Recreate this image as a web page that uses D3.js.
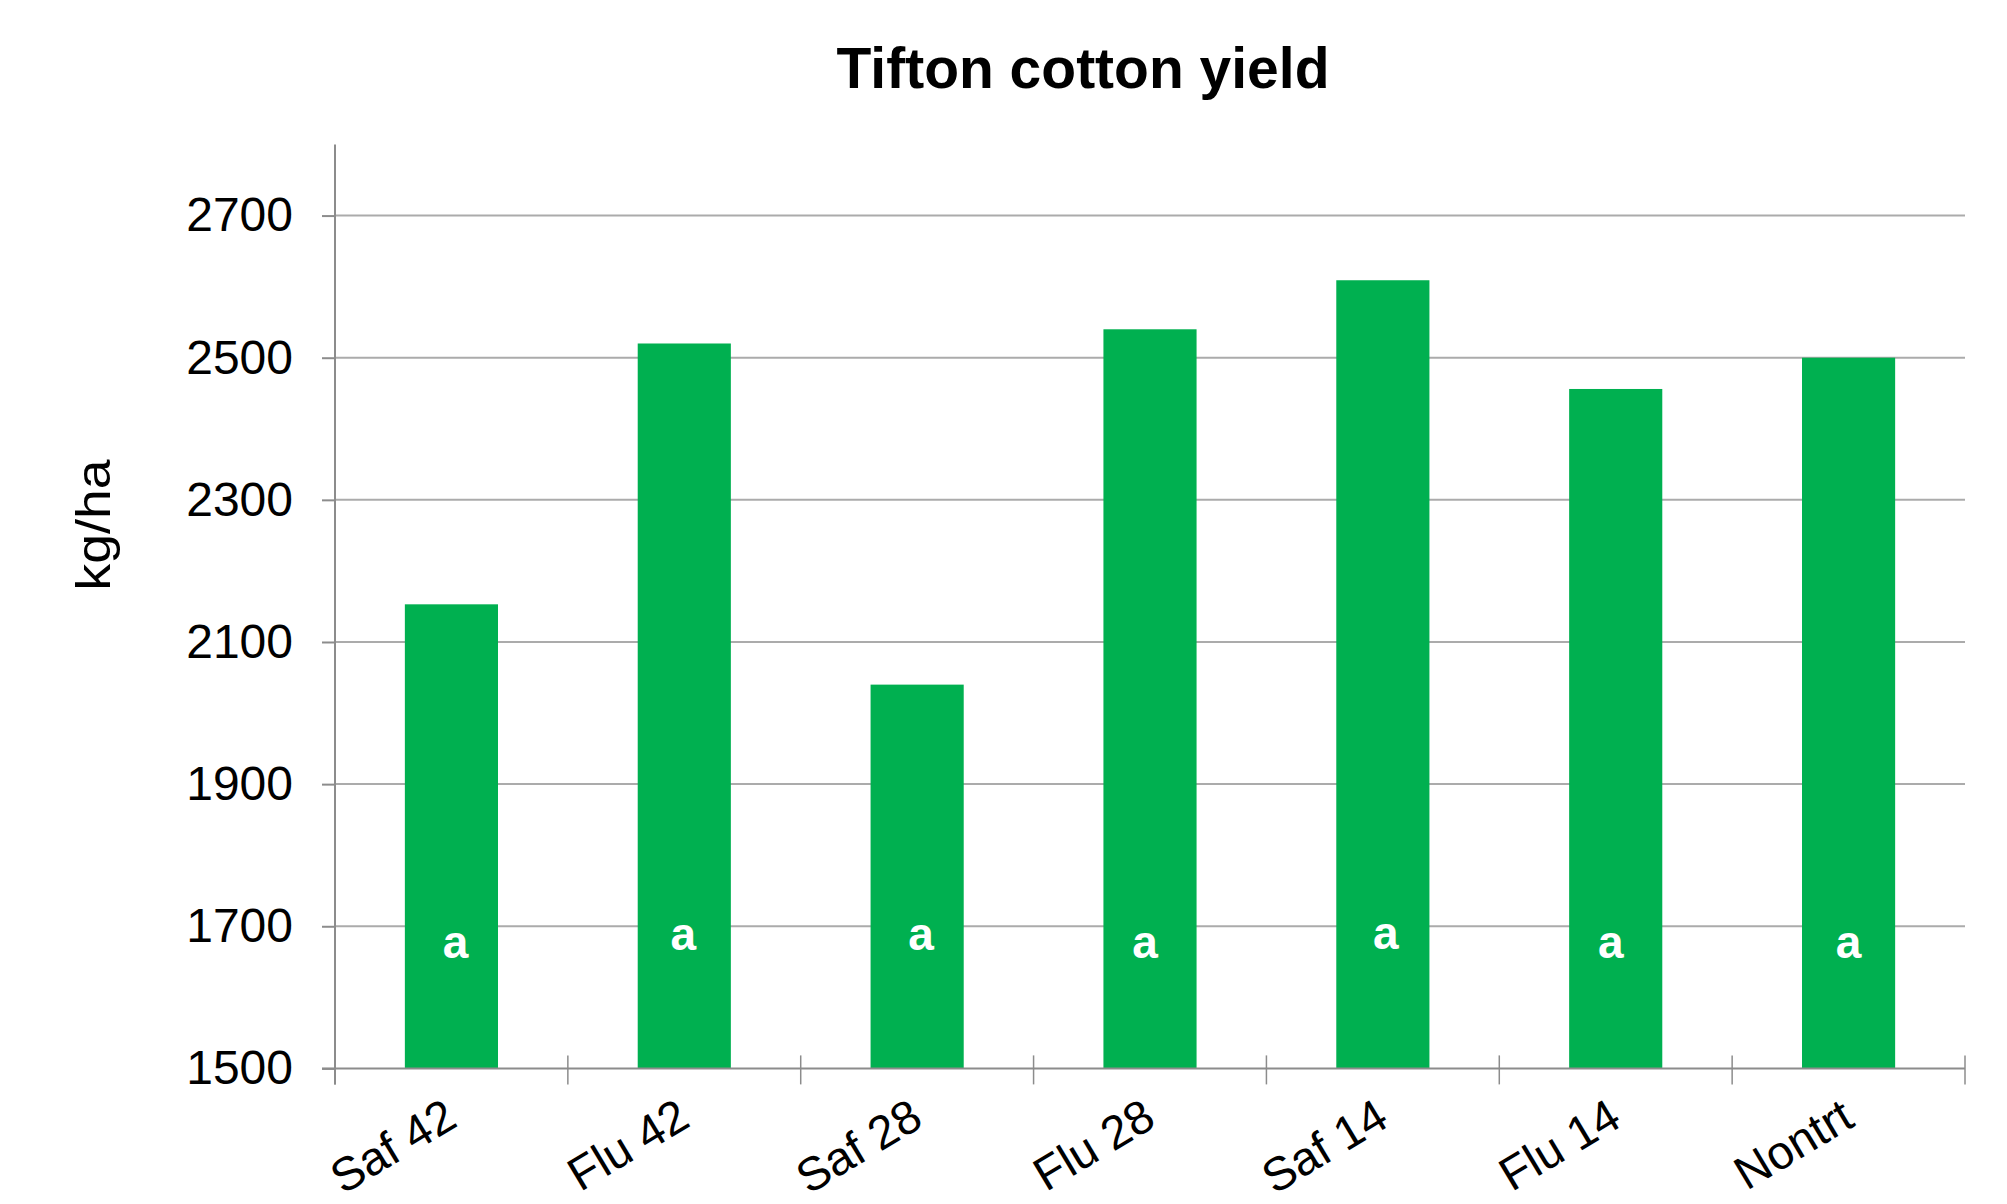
<!DOCTYPE html>
<html>
<head>
<meta charset="utf-8">
<script src="https://cdn.jsdelivr.net/npm/d3@7"></script>
<style>
  html, body { margin: 0; padding: 0; background: #fff; }
  svg { display: block; font-family: "Liberation Sans", Arial, sans-serif; }
</style>
</head>
<body>
<svg id="chart" width="2007" height="1204"></svg>
<script>
// ---- data ----
const categories = ["Saf 42", "Flu 42", "Saf 28", "Flu 28", "Saf 14", "Flu 14", "Nontrt"];
const yieldValues = [2153, 2520, 2040, 2540, 2609, 2456, 2500];
const letters = ["a", "a", "a", "a", "a", "a", "a"];
const yTicks = [1500, 1700, 1900, 2100, 2300, 2500, 2700];
const chartTitle = "Tifton cotton yield";
const yLabel = "kg/ha";

// ---- layout (not data) ----
const letterDy = [0, -8, -8, 0, -9, 0, 0];
const letterDx = [4, -1, 4, -5, 3, -5, 0];
const plotLeft = 335, plotRight = 1965, plotBottom = 1068.4, plotTop = 144.5;

const svg = d3.select("#chart");

const x = d3.scaleBand().domain(categories).range([plotLeft, plotRight])
  .paddingInner(0.6).paddingOuter(0.3);
const step = x.step();
const y = d3.scaleLinear().domain([1500, 2800]).range([plotBottom, plotTop]);

// gridlines
svg.append("g").selectAll("line")
  .data(yTicks.filter(t => t !== 1500))
  .join("line")
  .attr("x1", plotLeft).attr("x2", plotRight)
  .attr("y1", d => y(d)).attr("y2", d => y(d))
  .attr("stroke", "#ABABAB").attr("stroke-width", 2);

// bars
svg.append("g").selectAll("rect")
  .data(categories)
  .join("rect")
  .attr("x", d => x(d))
  .attr("width", x.bandwidth())
  .attr("y", (d, i) => y(yieldValues[i]))
  .attr("height", (d, i) => y(1500) - y(yieldValues[i]))
  .attr("fill", "#00B050");

// letters in bars
svg.append("g").selectAll("text")
  .data(categories)
  .join("text")
  .attr("x", (d, i) => x(d) + x.bandwidth() / 2 + letterDx[i])
  .attr("y", (d, i) => 958 + letterDy[i])
  .attr("text-anchor", "middle")
  .attr("fill", "#fff")
  .attr("font-weight", "bold")
  .attr("font-size", 46)
  .text((d, i) => letters[i]);

// y axis
const yAxis = d3.axisLeft(y).tickValues(yTicks).tickSize(13).tickPadding(29)
  .tickFormat(d3.format("d"));
const gy = svg.append("g").attr("transform", `translate(${plotLeft},0)`).call(yAxis);
gy.select(".domain").remove();
gy.selectAll(".tick line").attr("stroke", "#8C8C8C").attr("stroke-width", 2);
gy.selectAll(".tick text").attr("font-size", 48).attr("fill", "#000")
  .attr("font-family", "Liberation Sans, Arial, sans-serif");
svg.append("line").attr("x1", plotLeft).attr("x2", plotLeft)
  .attr("y1", y(2800)).attr("y2", plotBottom + 16)
  .attr("stroke", "#8C8C8C").attr("stroke-width", 2);

// x axis
svg.append("line").attr("x1", plotLeft - 13).attr("x2", plotRight)
  .attr("y1", plotBottom).attr("y2", plotBottom)
  .attr("stroke", "#8C8C8C").attr("stroke-width", 2);
const boundaries = categories.map(c => x(c) - step * 0.3).concat([plotRight]);
svg.append("g").selectAll("line")
  .data(boundaries)
  .join("line")
  .attr("x1", d => d).attr("x2", d => d)
  .attr("y1", plotBottom - 13).attr("y2", plotBottom + 16)
  .attr("stroke", "#8C8C8C").attr("stroke-width", 1.5);

// x labels
svg.append("g").selectAll("text")
  .data(categories)
  .join("text")
  .attr("transform", d => `translate(${x(d) + x.bandwidth() / 2 + 8},1125) rotate(-31)`)
  .attr("text-anchor", "end")
  .attr("font-size", 47)
  .attr("fill", "#000")
  .text(d => d);

// y label
svg.append("text")
  .attr("transform", "translate(110,525) rotate(-90)")
  .attr("text-anchor", "middle")
  .attr("font-size", 48)
  .attr("textLength", 131)
  .attr("lengthAdjust", "spacingAndGlyphs")
  .attr("fill", "#000")
  .text(yLabel);

// title
svg.append("text")
  .attr("x", 1083).attr("y", 88)
  .attr("text-anchor", "middle")
  .attr("font-size", 57)
  .attr("font-weight", "bold")
  .attr("fill", "#000")
  .text(chartTitle);
</script>
</body>
</html>
